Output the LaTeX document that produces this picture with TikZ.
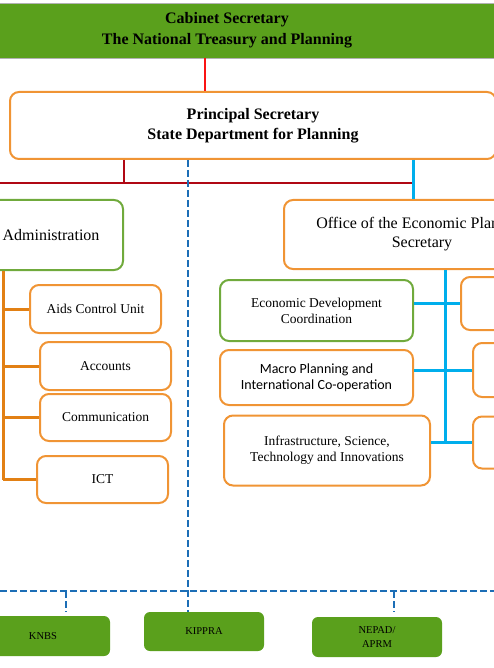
\documentclass[tikz,border=0pt]{standalone}
\usepackage{fontspec}
\setmainfont{Liberation Serif}
\newfontfamily\calibrifont{Carlito}
\usepackage{tikz}
\usetikzlibrary{calc, positioning}

\definecolor{barGreen}{RGB}{90,160,28}
\definecolor{boxOrange}{RGB}{240,148,52}
\definecolor{boxGreen}{RGB}{112,170,60}
\definecolor{lineRed}{RGB}{250,20,20}
\definecolor{darkRed}{RGB}{176,8,20}
\definecolor{lineCyan}{RGB}{0,174,236}
\definecolor{dashBlue}{RGB}{28,110,182}
\definecolor{lineOrange}{RGB}{226,128,20}

\begin{document}
\begin{tikzpicture}[x=1pt, y=-1pt,
    unitbox/.style={draw=boxOrange, line width=2pt, rounded corners=9pt, fill=white,
        align=center, inner sep=0pt},
    headbox/.style={unitbox, draw=boxGreen},
    agencybox/.style={fill=barGreen, rounded corners=6pt, align=center, inner sep=0pt,
        font=\fontsize{10.5}{14}\selectfont},
    redline/.style={draw=lineRed, line width=2.5pt},
    redbus/.style={draw=darkRed, line width=2.5pt},
    cyanline/.style={draw=lineCyan, line width=3pt},
    orangeline/.style={draw=lineOrange, line width=3pt},
    dashline/.style={draw=dashBlue, line width=2.5pt, dash pattern=on 7pt off 3pt}]

    \useasboundingbox (0,0) rectangle (494,668);
    \clip (0,0) rectangle (494,668);

    % =================================================================
    % 1. TOP LEVEL
    % =================================================================
    \node[fill=barGreen, draw=gray!60, line width=0.8pt, minimum width=534pt, minimum height=55pt,
          align=center, inner sep=0pt, font=\bfseries\fontsize{16}{21}\selectfont]
        (cabinet) at (227,30.5) {Cabinet Secretary\\The National Treasury and Planning};

    \node[unitbox, minimum width=486pt, minimum height=67pt,
          font=\bfseries\fontsize{16}{20}\selectfont]
        (principal) at (253,125.5) {Principal Secretary\\State Department for Planning};

    % =================================================================
    % 2. SECOND LEVEL
    % =================================================================
    \node[headbox, minimum width=144pt, minimum height=70pt, font=\fontsize{16}{19}\selectfont]
        (admin) at (51,235) {Administration};

    \node[unitbox, minimum width=276pt, minimum height=69pt, font=\fontsize{16}{19}\selectfont]
        (office) at (422,234.5) {Office of the Economic Planning\\Secretary};

    % Administration units
    \node[unitbox, minimum width=131pt, minimum height=48pt, font=\fontsize{13.5}{16}\selectfont]
        (aids) at (95.5,309) {Aids Control Unit};
    \node[unitbox, minimum width=131pt, minimum height=48pt, font=\fontsize{13.5}{16}\selectfont]
        (accounts) at (105.5,366) {Accounts};
    \node[unitbox, minimum width=131pt, minimum height=47pt, font=\fontsize{13.5}{16}\selectfont]
        (comm) at (105.5,417.5) {Communication};
    \node[unitbox, minimum width=131pt, minimum height=47pt, font=\fontsize{13.5}{16}\selectfont]
        (ict) at (102.5,479.5) {ICT};

    % Economic planning directorates
    \node[headbox, minimum width=193pt, minimum height=61pt, font=\fontsize{13.5}{16}\selectfont]
        (edc) at (316.5,310.5) {Economic Development\\Coordination};
    \node[unitbox, minimum width=193pt, minimum height=55pt, font=\calibrifont\fontsize{14}{16}\selectfont]
        (macro) at (316.5,377.5) {Macro Planning and\\International Co-operation};
    \node[unitbox, minimum width=206pt, minimum height=70pt, font=\fontsize{13.5}{16}\selectfont]
        (infra) at (327,450.5) {Infrastructure, Science,\\Technology and Innovations};

    \node[unitbox, minimum width=99pt, minimum height=53pt] (east1) at (510.5,303.5) {};
    \node[unitbox, minimum width=99pt, minimum height=54pt] (east2) at (522.5,370) {};
    \node[unitbox, minimum width=99pt, minimum height=52pt] (east3) at (522.5,442.5) {};

    % =================================================================
    % 3. AGENCIES
    % =================================================================
    \node[agencybox, minimum width=134pt, minimum height=40pt] (knbs) at (43,636) {KNBS};
    \node[agencybox, minimum width=120pt, minimum height=39pt] (kippra) at (204,631.5) {KIPPRA};
    \node[agencybox, minimum width=130pt, minimum height=40pt] (nepad) at (377,637) {NEPAD/\\APRM};

    % =================================================================
    % 4. CONNECTORS
    % =================================================================
    \coordinate (redx) at (205,0);
    \coordinate (busl) at (0,183);
    \coordinate (cyanx) at (413,0);
    \coordinate (dashx) at (188,0);
    \coordinate (dashl) at (0,591);
    \coordinate (dashr) at (494,591);
    \coordinate (adminx) at (3,0);
    \coordinate (eastx) at (445,0);

    \draw[redline] (cabinet.south -| redx) -- (principal.north -| redx);

    \draw[redbus] (principal.south -| admin.east) -- (busl -| admin.east);
    \draw[redbus] (busl) -- (busl -| cyanx);
    \draw[cyanline] (principal.south -| cyanx) -- (office.north -| cyanx);

    % dashed link to the agencies
    \draw[dashline] (principal.south -| dashx) -- (dashl -| dashx) -- (kippra.north -| dashx);
    \draw[dashline] (dashl) -- (dashr);
    \draw[dashline] (dashl -| knbs.north) ++(23,0) -- ++(0,21);
    \draw[dashline] (dashl -| nepad.north) ++(17,0) -- ++(0,21);

    % administration branch
    \draw[orangeline] (admin.south -| adminx) -- (ict.west -| adminx);
    \foreach \unit in {aids, accounts, comm, ict}
        \draw[orangeline] (\unit.west -| adminx) -- (\unit.west);

    % economic planning branch
    \draw[cyanline] (office.south -| eastx) -- (east3.west -| eastx);
    \draw[cyanline] (east1.west -| edc.east) -- (east1.west);
    \draw[cyanline] (east2.west -| macro.east) -- (east2.west);
    \draw[cyanline] (east3.west -| infra.east) -- (east3.west);

\end{tikzpicture}
\end{document}
